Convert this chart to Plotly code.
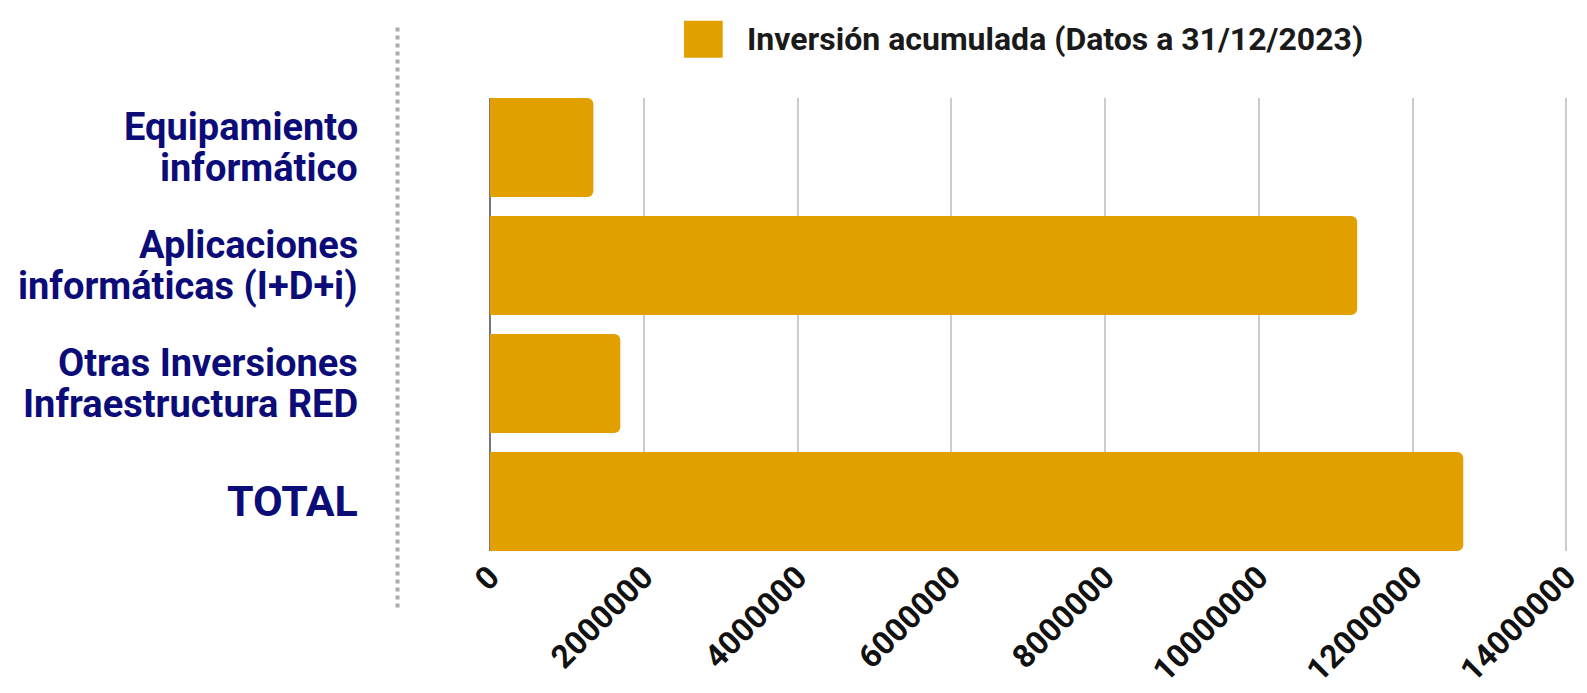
import plotly.graph_objects as go

categories = ["Equipamiento<br>informático",
              "Aplicaciones<br>informáticas (I+D+i)",
              "Otras Inversiones<br>Infraestructura RED",
              "TOTAL"]
values = [1345000, 11280000, 1695000, 12660000]
series_name = "Inversión acumulada (Datos a 31/12/2023)"
x_ticks = [0, 2000000, 4000000, 6000000, 8000000, 10000000, 12000000, 14000000]

BAR = "#E2A000"
NAVY = "#0c0c78"

fig = go.Figure()
fig.add_trace(go.Bar(
    y=list(range(len(categories))), x=values, orientation="h",
    marker=dict(color=BAR, line=dict(width=0)),
    name=series_name, showlegend=False,
))

fig.update_layout(
    width=1587, height=693,
    margin=dict(l=482, r=15, t=90, b=140),
    paper_bgcolor="white", plot_bgcolor="white",
    bargap=0.16, barcornerradius=6,
    font=dict(family="Roboto", weight=700),
)
fig.update_xaxes(
    range=[0, 14100000], tickvals=x_ticks, ticktext=[str(v) for v in x_ticks],
    tickangle=-45, tickfont=dict(size=32, color="#111111", family="Roboto", weight=700),
    showgrid=True, gridcolor="#cccccc", gridwidth=1.5,
    zeroline=True, zerolinecolor="#777777", zerolinewidth=1.5,
    showline=False, ticks="",
)
fig.update_yaxes(
    range=[3.42, -0.42], tickvals=list(range(len(categories))),
    showticklabels=False,
    showgrid=False, zeroline=False, showline=False, ticks="",
)

# x position of label right edge, in paper units of the plot width (1090 px)
LABEL_X = (351 - 482) / 1090.0
SEP_X = (389 - 482) / 1090.0

# category labels (one annotation per line for tighter line spacing)
for i, cat in enumerate(categories):
    lines = cat.split("<br>")
    if len(lines) == 1:
        fig.add_annotation(xref="paper", yref="y", x=LABEL_X, y=i,
                           xanchor="right", yanchor="middle", showarrow=False,
                           text=lines[0],
                           font=dict(size=43, color=NAVY, family="Roboto", weight=700))
    else:
        for j, ln in enumerate(lines):
            fig.add_annotation(xref="paper", yref="y", x=LABEL_X,
                               y=i + (-0.17 if j == 0 else 0.17),
                               xanchor="right", yanchor="middle", showarrow=False,
                               text=ln,
                               font=dict(size=38, color=NAVY, family="Roboto", weight=700))

# dotted separator line
fig.add_shape(type="line", xref="paper", yref="paper",
              x0=SEP_X, x1=SEP_X, y0=1.1555, y1=-0.1317,
              line=dict(color="#aaaaaa", width=4, dash="dot"))

# legend (manual, larger swatch)
fig.add_shape(type="rect", xref="paper", yref="paper",
              x0=(677 - 482) / 1090.0, x1=(716 - 482) / 1090.0, y0=1.0886, y1=1.1706,
              fillcolor=BAR, line=dict(width=0))
fig.add_annotation(xref="paper", yref="paper", x=(738 - 482) / 1090.0, y=1.1296,
                   xanchor="left", yanchor="middle", showarrow=False,
                   text=series_name,
                   font=dict(size=32, color="#1a1a1a", family="Roboto", weight=700))

fig.write_html("out.html")
